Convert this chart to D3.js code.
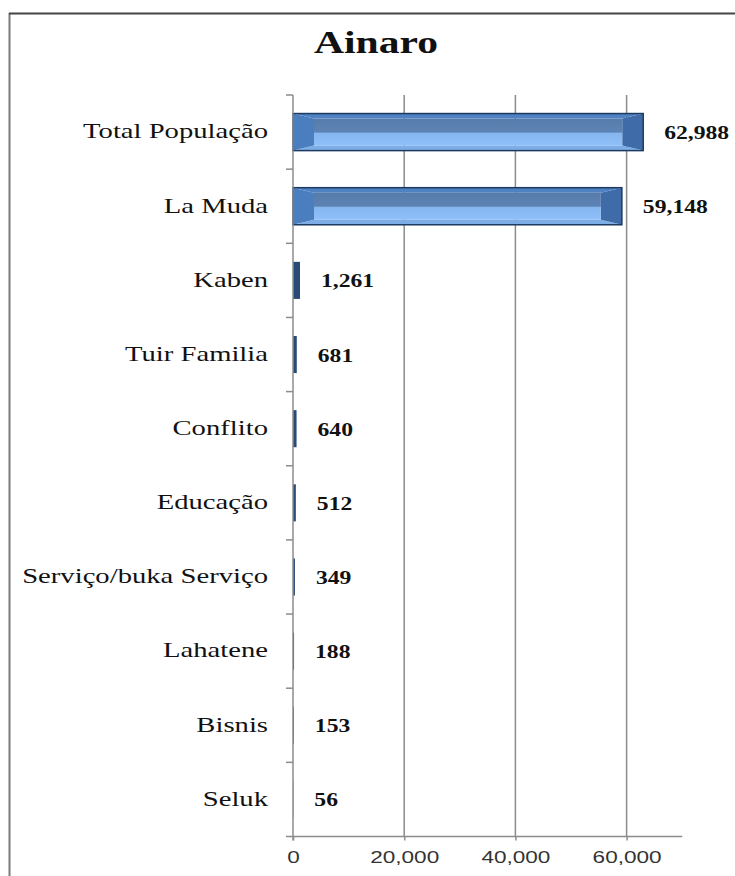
<!DOCTYPE html>
<html>
<head>
<meta charset="utf-8">
<script src="https://cdn.jsdelivr.net/npm/d3@7/dist/d3.min.js"></script>
<style>
  html, body { margin: 0; padding: 0; background: #fff; }
  svg { display: block; }
  .serif { font-family: "Liberation Serif", "DejaVu Serif", "Times New Roman", serif; }
  .sans { font-family: "Liberation Sans", "DejaVu Sans", Arial, sans-serif; }
</style>
</head>
<body>
<svg id="chart" width="735" height="876"></svg>
<script>
const title = "Ainaro";
const categories = ["Total População", "La Muda", "Kaben", "Tuir Familia", "Conflito",
  "Educação", "Serviço/buka Serviço", "Lahatene", "Bisnis", "Seluk"];
const values = [62988, 59148, 1261, 681, 640, 512, 349, 188, 153, 56];
const xTicks = [0, 20000, 40000, 60000];
const xMax = 70000;

(function () {
const svg = d3.select("#chart");

function stretch(cls, size, weight, sample, target) {
  const t = svg.append("text").attr("class", cls).attr("font-size", size)
    .attr("font-weight", weight).text(sample);
  const w = t.node().getComputedTextLength();
  t.remove();
  return target / w;
}
const SX_T = stretch("serif", 32, "bold", title, 124);
const SX_C = stretch("serif", 21, "normal", "Serviço/buka Serviço", 246);
const SX_V = stretch("serif", 18, "bold", "62,988", 65);
const SX_X = stretch("sans", 17, "normal", "20,000", 69);

// frame
svg.append("line").attr("x1", 9.5).attr("y1", 13).attr("x2", 9.5).attr("y2", 880)
  .attr("stroke", "#7a7a7a").attr("stroke-width", 2);
svg.append("line").attr("x1", 9).attr("y1", 13.5).attr("x2", 740).attr("y2", 13.5)
  .attr("stroke", "#454545").attr("stroke-width", 2);

// title
svg.append("text").attr("class", "serif")
  .attr("transform", `translate(376,53) scale(${SX_T},1)`)
  .attr("text-anchor", "middle")
  .attr("font-weight", "bold").attr("font-size", 32).attr("fill", "#111")
  .text(title);

const pL = 293, pR = 682.2, pT = 95, pB = 836.5;
const x = d3.scaleLinear().domain([0, xMax]).range([pL, pR]);
const y = d3.scaleBand().domain(categories).range([pT, pB])
  .paddingInner(0.5).paddingOuter(0.25);

// gridlines
svg.append("g").selectAll("line").data(xTicks.filter(t => t > 0)).join("line")
  .attr("x1", d => x(d)).attr("x2", d => x(d))
  .attr("y1", pT).attr("y2", pB)
  .attr("stroke", "#8c8c8c").attr("stroke-width", 1.5);

// bars with bevel
const defs = svg.append("defs");
const grad = defs.append("linearGradient").attr("id", "barGrad")
  .attr("x1", 0).attr("y1", 0).attr("x2", 0).attr("y2", 1);
grad.append("stop").attr("offset", "0%").attr("stop-color", "#577cab");
grad.append("stop").attr("offset", "50%").attr("stop-color", "#5d83b5");
grad.append("stop").attr("offset", "54%").attr("stop-color", "#86b6ef");
grad.append("stop").attr("offset", "100%").attr("stop-color", "#90c0f9");

const barG = svg.append("g");
categories.forEach((c, i) => {
  const v = values[i];
  const x0 = x(0), x1 = x(v);
  const w = x1 - x0;
  const y0 = y(c), h = y.bandwidth(), y1 = y0 + h;
  const g = barG.append("g");
  if (w < 42) {
    // thin bars read as dark navy slivers
    g.append("rect").attr("x", x0).attr("y", y0).attr("width", w).attr("height", h)
      .attr("fill", "#2a4a76");
    return;
  }
  const bx = 21, by = 5;
  const poly = (pts, fill) => g.append("polygon")
    .attr("points", pts.map(p => p.join(",")).join(" ")).attr("fill", fill);
  poly([[x0, y0], [x1, y0], [x1 - bx, y0 + by], [x0 + bx, y0 + by]], "#4f82c2");
  poly([[x0, y1], [x1, y1], [x1 - bx, y1 - by], [x0 + bx, y1 - by]], "#7cade6");
  poly([[x0, y0], [x0 + bx, y0 + by], [x0 + bx, y1 - by], [x0, y1]], "#4b7ebe");
  poly([[x1, y0], [x1 - bx, y0 + by], [x1 - bx, y1 - by], [x1, y1]], "#3f6ca8");
  g.append("rect").attr("x", x0 + bx).attr("y", y0 + by)
    .attr("width", w - 2 * bx).attr("height", h - 2 * by).attr("fill", "url(#barGrad)");
  g.append("rect").attr("x", x0).attr("y", y0).attr("width", w).attr("height", h)
    .attr("fill", "none").attr("stroke", "#1d3a62").attr("stroke-width", 1.5);
});

// value labels
svg.append("g").selectAll("text").data(values).join("text").attr("class", "serif")
  .attr("transform", (d, i) => `translate(${x(d) + 21},${y(categories[i]) + y.bandwidth() / 2 + 7}) scale(${SX_V},1)`)
  .attr("font-weight", "bold").attr("font-size", 18).attr("fill", "#111")
  .text(d => d3.format(",")(d));

// left axis (categories)
const yAxis = d3.axisLeft(y).tickSize(0).tickPadding(0);
const gy = svg.append("g").attr("transform", `translate(${pL},0)`).call(yAxis);
gy.attr("font-family", null);
gy.select(".domain").remove();
gy.selectAll(".tick text").attr("class", "serif")
  .attr("x", -25 / SX_C).attr("dy", "0.3em")
  .attr("transform", `scale(${SX_C},1)`)
  .attr("font-size", 21).attr("fill", "#111");
svg.append("line").attr("x1", pL).attr("x2", pL).attr("y1", pT).attr("y2", pB + 4)
  .attr("stroke", "#8c8c8c").attr("stroke-width", 1.5);
const step = y.step();
const bounds = categories.map(c => y(c) - (step - y.bandwidth()) / 2).concat([pB]);
svg.append("g").selectAll("line").data(bounds).join("line")
  .attr("x1", pL - 7).attr("x2", pL).attr("y1", d => d).attr("y2", d => d)
  .attr("stroke", "#8c8c8c").attr("stroke-width", 1.5);

// bottom axis
const xAxis = d3.axisBottom(x).tickValues(xTicks).tickSize(4).tickPadding(10)
  .tickFormat(d3.format(","));
const gx = svg.append("g").attr("transform", `translate(0,${pB})`).call(xAxis);
gx.attr("font-family", null);
gx.select(".domain").attr("stroke", "#8c8c8c").attr("stroke-width", 1.5)
  .attr("d", `M${pL},0H${pR}`);
gx.selectAll(".tick line").attr("stroke", "#8c8c8c").attr("stroke-width", 1.5);
gx.selectAll(".tick text").attr("class", "sans")
  .attr("transform", `scale(${SX_X},1)`)
  .attr("font-size", 17).attr("fill", "#333");
})();
</script>
</body>
</html>
